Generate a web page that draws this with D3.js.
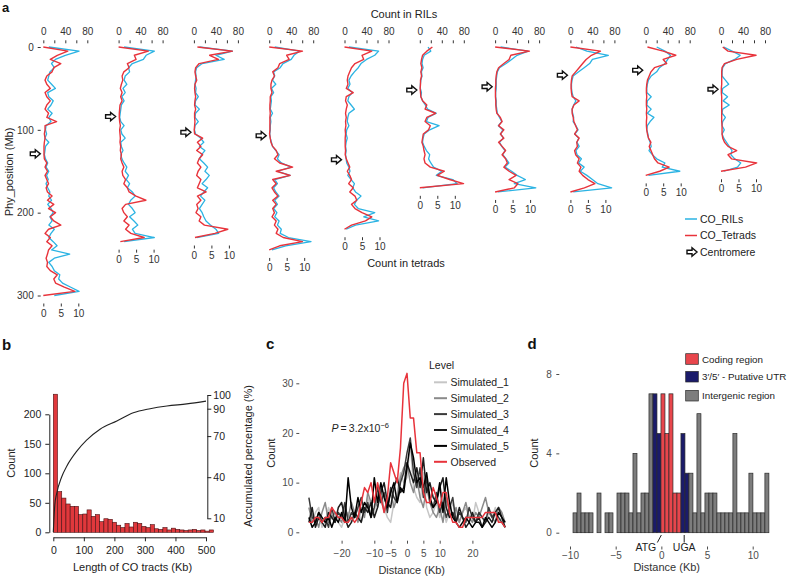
<!DOCTYPE html>
<html>
<head>
<meta charset="utf-8">
<script src="https://cdn.jsdelivr.net/npm/d3@7"></script>
<style>
  body { margin: 0; background: #fff; }
  svg { display: block; font-family: "Liberation Sans", Arial, Helvetica, sans-serif; }
</style>
</head>
<body>
<svg id="fig" width="788" height="576"></svg>
<script>
// ---------- panel a: crossovers along the 10 chromosomes ----------
const chromNames = ['1', '2', '3', '4', '5', '6', '7', '8', '9', '10']
const chromLengthMb = [300, 235, 230, 245, 220, 170, 175, 175, 155, 150]
const centromereMb = [129, 84, 103, 107, 136, 52, 48, 34, 28, 51]
const binStepMb = 5
const rilTicks = [0, 20, 40, 60, 80]
const tetradTicks = [0, 5, 10]
const positionTicks = [0, 100, 200, 300]

// CO counts in RILs, one value per 5 Mb
const rilCounts = [
  [10,65,40,22,15,20,12,10,8,15, 22,8,10,18,14,8,16,10,14,5, 4,6,3,10,4,3,2,4,8,5, 10,6,9,5,8,12,10,15,8,14, 18,12,16,10,20,14,10,18,25,15, 48,20,10,16,20,30,28,35,50,65, 20],
  [10,65,50,45,25,18,20,12,10,15, 8,12,6,10,5,4,3,2,4,10, 4,6,12,4,5,8,4,6,10,15, 12,18,14,20,16,25,30,22,18,25, 30,20,28,35,25,30,65,10],
  [10,70,40,55,15,5,3,4,3,2, 4,3,8,3,2,10,3,2,8,2, 1,3,12,18,10,20,14,10,18,25, 20,28,22,15,25,18,12,20,15,10, 15,18,22,30,40,45,5],
  [10,55,45,40,25,20,8,10,6,12, 4,8,3,4,3,2,6,2,3,2, 2,1,2,4,6,12,18,15,22,40, 15,38,10,15,8,12,18,10,15,8, 14,10,18,15,22,20,35,76,30,5],
  [8,62,55,40,30,25,18,12,8,10, 6,14,8,6,12,18,8,6,5,8, 4,3,5,3,2,3,2,3,4,8, 10,6,12,18,15,20,30,22,18,25, 55,35,62,20,3],
  [15,20,8,5,4,6,3,4,2,1, 1,3,2,5,10,14,30,15,12,35, 18,8,6,5,8,12,18,16,20,25, 40,30,60,68,5],
  [10,60,40,30,20,8,4,3,2,2, 2,1,1,2,2,3,4,8,12,6, 14,10,15,8,12,18,14,20,25,18, 30,40,55,35,74,5],
  [10,30,69,40,35,25,15,5,3,2, 2,3,5,10,6,3,4,6,5,10, 14,8,15,12,16,10,12,20,15,25, 18,30,40,50,75,5],
  [20,35,45,40,35,25,20,10,5,3, 2,2,10,3,2,10,3,15,8,3, 2,4,5,8,10,6,12,20,35,30, 62,5],
  [5,20,35,25,8,3,2,2,8,14, 3,2,12,4,15,3,2,8,3,2, 6,2,5,10,15,20,18,25,36,30, 5]
]

// CO counts in tetrads, one value per 5 Mb
const tetradCounts = [
  [0,7,4,2,5,3,2.5,1,0.5,1, 2,0.5,1,2,1,0.5,1.5,1,3.8,0.5, 0.5,0.3,0.5,0.3,0.2,0.2,0.2,0.3,1,0.5, 1.2,0.5,1,1.5,0.8,1.2,2.5,1.2,3,1.5, 3.5,2,3,5,1.5,0.5,2,1,2.5,1.5, 1.2,0.8,1.2,1,2,4,3,3.5,6,9, 0],
  [0,8.5,4.5,5,2.5,3,1.5,1,1.2,0.8, 0.5,1,0.6,1,0.4,0.3,0.2,0.2,0.3,0.5, 0.3,0.4,0.5,0.4,0.6,0.5,0.8,0.6,1,1.5, 1,1.2,2,1.5,2.5,3,5,7.8,2,1, 1.5,2.5,1.5,3,2,3.5,7.3,0.5],
  [1,11,4.5,7,1.5,0.5,0.3,0.5,0.8,0.3, 0.2,0.3,0.5,0.3,0.2,0.5,0.2,0.2,0.3,0.2, 0.1,0.2,2.5,1,2,0.8,2.5,1.5,1,2, 1.2,0.8,2,1.5,1,3.5,1,2,0.8,1.2, 0.6,2,1.5,3,9.7,6,0.3],
  [0,9.5,5,5.7,3,2.5,1,1.5,0.8,0.5, 0.5,0.8,0.3,0.3,0.2,0.2,0.3,0.2,0.2,0.2, 0.2,0.1,0.3,0.5,1,2,2.5,1.5,3,6.7, 2,6,1,2,0.8,1.5,2.5,1,2,1, 1.5,0.8,2,1.5,2.5,2,4,9.5,3,0],
  [0,7.8,5,5.5,3,2,1.5,1,0.8,1, 0.5,2.5,0.5,0.3,0.8,0.5,0.3,0.5,0.3,0.4, 0.2,0.3,0.2,0.2,0.2,0.3,0.2,0.5,1,1.5, 0.8,1.5,2,1.2,2.5,1.5,3,3.5,2,3, 5,7.8,6,2,0],
  [3.6,2,0.8,0.5,0.3,0.6,0.3,0.5,0.2,0.2, 0.1,0.2,0.3,0.8,2,1.5,4.5,2,1.5,3, 2.5,1,0.8,0.6,1,1.2,1.5,1.2,1.5,3, 7,5,8.5,12.5,0],
  [0,9.8,4.5,4,2.5,1,0.5,0.3,0.2,0.2, 0.1,0.1,0.1,0.2,0.2,0.3,0.5,1.5,2,1, 2.5,1.5,2.5,1,2,3,2,3,3.5,2.5, 4,6,4,6.5,5.5,0],
  [0,8.6,6,4.5,3.5,2.5,1.5,0.5,0.3,0.2, 0.2,0.3,0.5,2.5,1,0.5,0.5,0.8,1,1.5, 2,1.2,2.5,1.8,2,1.2,1.5,2.5,2,3, 2.5,3.5,5,7,4,0],
  [0.5,5,8.6,5,6,2.5,1.5,1,0.5,0.3, 0.2,0.2,0.3,0.2,0.2,0.3,0.2,0.3,0.2,0.2, 0.3,0.5,0.8,1.5,1,1.5,2,2.5,3.5,6.7, 4,0],
  [0.5,2,10,4.5,1,0.3,0.2,0.2,0.2,0.2, 0.1,0.1,0.2,0.2,0.2,0.2,0.2,0.2,0.2,0.3, 0.3,0.3,0.5,1,2,4.5,2,3,10.2,7, 0]
]

// ---------- panel b: CO tract lengths ----------
const tractBinWidthKb = 13.8
const tractCounts = [234,69,58,48,44,44,30,31,38,27, 30,18,23,22,17,12,8,15,9,17, 15,10,8,13,6,5,8,4,7,5, 4,3,4,5,3,4,2,4]
const cumulativeKb = [0, 5, 11, 27, 44, 77, 109, 153, 208, 262, 317, 372, 437, 500]
const cumulativePct = [0, 20, 28, 40, 48, 59, 67, 75, 81, 87, 90, 92, 93.5, 95.5]
const lengthTicks = [0, 100, 200, 300, 400, 500]
const countTicksB = [0, 50, 100, 150, 200]
const pctTicks = [10, 40, 70, 90, 100]

// ---------- panel c: distance of CO to genes ----------
const distanceKb = [-30,-29,-28,-27,-26,-25,-24,-23,-22,-21,-20,-19,-18,-17,-16,-15,-14,-13,-12,-11,-10,-9,-8,-7,-6,-5,-4,-3,-2,-1,0,1,2,3,4,5,6,7,8,9,10,11,12,13,14,15,16,17,18,19,20,21,22,23,24,25,26,27,28,29,30]
const simulated1 = [3,2,4,5,1,2,5,3,4,2, 1,3,4,2,3,5,2,4,7,5, 4,8,6,5,3,2,6,8,12,10, 11,18,9,7,6,12,5,3,4,6, 3,5,2,4,6,3,2,4,5,3, 2,6,4,3,2,4,3,5,2,3, 1]
const simulated2 = [5,2,3,1,4,6,2,3,4,3, 2,5,3,6,4,2,5,3,8,6, 7,5,9,4,6,8,5,7,11,13, 14,10,8,11,7,5,9,6,4,3, 5,2,7,4,3,5,2,4,6,3, 2,4,3,5,7,4,3,2,5,4, 2]
const simulated3 = [7,3,2,4,2,3,1,5,2,4, 3,6,2,4,3,5,7,4,6,3, 5,9,6,8,4,9,7,6,10,12, 16,19,12,9,13,7,11,6,5,8, 4,6,3,5,7,2,4,3,2,5, 3,2,4,3,2,5,3,4,3,2, 1]
const simulated4 = [2,5,1,3,2,1,4,3,2,5, 6,3,1,2,4,3,2,5,4,6, 3,5,8,10,6,5,9,11,8,9, 14,12,10,13,9,15,8,10,7,6, 9,11,5,3,4,2,5,3,1,2, 4,2,3,1,2,3,2,4,5,3, 1]
const simulated5 = [3,1,2,4,3,2,3,1,3,2, 4,2,11,5,3,7,4,6,5,3, 11,6,10,7,5,8,10,6,9,8, 13,18,15,10,11,9,12,7,5,6, 10,4,11,6,3,2,1,2,3,2, 1,2,2,1,3,2,1,2,4,3, 2]
const observed = [2,2,3,3,2,3,3,5,4,3, 3,2,2,3,2,3,6,9,8,10, 6,10,7,4,7,14,12,10,17,30, 32,23,23,16,16,8,6,6,9,7, 5,8,8,4,2,2,1,1,3,3, 3,3,3,3,4,4,4,4,2,2, 1]
const levelNames = ['Simulated_1', 'Simulated_2', 'Simulated_3', 'Simulated_4', 'Simulated_5', 'Observed']
const distanceTicksC = [-20, -10, -5, 0, 5, 10, 20]
const countTicksC = [0, 10, 20, 30]

// ---------- panel d: CO position relative to genes ----------
const geneBinStartKb = -9.67
const geneBinWidthKb = 0.4376
const geneBinCounts = [1,2,1,1,1,0,2,0,1,1, 0,2,2,2,1,4,1,2,2,7, 7,5,7,5,7,2,2,5,3,3, 1,6,1,2,2,2,1,1,1,1, 5,1,1,1,3,1,1,1,3,0]
const geneBinRegion = ['I','I','I','I','I','I','I','I','I','I', 'I','I','I','I','I','I','I','I','I','I', 'U','U','C','C','C','C','C','U','U','I', 'I','I','I','I','I','I','I','I','I','I', 'I','I','I','I','I','I','I','I','I','I']
const regionNames = ['Coding region', '3\u2032/5\u2032 - Putative UTR', 'Intergenic region']
const regionKeys = ['C', 'U', 'I']
const geneMarkNames = ['ATG', 'UGA']
const geneMarkKb = [0, 2.5]
const distanceTicksD = [-10, -5, 0, 5, 10]
const countTicksD = [0, 4, 8]

// ------------------------------------------------------------
const svg = d3.select('#fig')
svg.append('rect').attr('width', 788).attr('height', 576).attr('fill', '#fff')

const tidy = (g, colour, size, keepDomain) => {
  g.attr('font-family', null).attr('font-size', size)
  if (!keepDomain) g.select('.domain').remove()
  else g.select('.domain').attr('stroke', colour)
  g.selectAll('line').attr('stroke', colour)
  g.selectAll('text').attr('fill', colour)
}

const label = (txt, x, y, opts = {}) => {
  const t = svg.append('text')
    .attr('x', x).attr('y', y)
    .attr('font-size', opts.size || 11)
    .attr('fill', opts.fill || '#222')
    .attr('text-anchor', opts.anchor || 'start')
    .text(txt)
  if (opts.bold) t.attr('font-weight', 'bold')
  if (opts.rotate) t.attr('transform', `rotate(${opts.rotate},${x},${y})`)
  return t
}

// ===== panel a =====
const blue = '#2bb3e3'
const red = '#e8333b'
const chrX = d3.scalePoint().domain(chromNames).range([43.3, 721])
const yMb = d3.scaleLinear().domain([0, 300]).range([47, 295.5])
const arrowPath = 'M-10,-1.8 L-5,-1.8 L-5,-4.2 L0,0 L-5,4.2 L-5,1.8 L-10,1.8 Z'

label('a', 2, 12, { size: 13, bold: true, fill: '#111' })
label('Count in RILs', 404, 17.5, { anchor: 'middle', size: 11 })
label('Count in tetrads', 406, 267, { anchor: 'middle', size: 11 })
label('Phy_position (Mb)', 12.5, 172, { anchor: 'middle', size: 11, rotate: -90 })

chromNames.forEach((chr, i) => {
  const x0 = chrX(chr)
  const xRil = d3.scaleLinear().domain([0, 80]).range([x0, x0 + 44])
  const xTet = d3.scaleLinear().domain([0, 10]).range([x0, x0 + 35])
  const yEnd = yMb(chromLengthMb[i])
  const g = svg.append('g')

  g.append('g').attr('transform', 'translate(0,43.3)')
    .call(d3.axisTop(xRil).tickValues(rilTicks).tickSize(3).tickPadding(5)
      .tickFormat(d => d % 40 === 0 ? d : ''))
    .call(tidy, '#333', 10)

  g.append('g').attr('transform', `translate(0,${yEnd + 8})`)
    .call(d3.axisBottom(xTet).tickValues(tetradTicks).tickSize(3).tickPadding(3))
    .call(tidy, '#333', 10)

  if (i === 0) {
    g.append('g').attr('transform', 'translate(40.7,0)')
      .call(d3.axisLeft(yMb).tickValues(positionTicks).tickSize(3).tickPadding(4))
      .call(tidy, '#333', 10)
  }

  const ril = d3.line().x(d => xRil(d)).y((d, j) => yMb(j * binStepMb))
  const tet = d3.line().x(d => xTet(d)).y((d, j) => yMb(j * binStepMb))
  g.append('path').datum(rilCounts[i]).attr('d', ril)
    .attr('fill', 'none').attr('stroke', blue).attr('stroke-width', 1.3).attr('stroke-linejoin', 'round')
  g.append('path').datum(tetradCounts[i]).attr('d', tet)
    .attr('fill', 'none').attr('stroke', red).attr('stroke-width', 1.4).attr('stroke-linejoin', 'round')

  g.append('path').attr('d', arrowPath)
    .attr('transform', `translate(${x0 - 3},${yMb(centromereMb[i])})`)
    .attr('fill', '#fff').attr('stroke', '#111').attr('stroke-width', 1.4)
})

// legend a
const legA = svg.append('g').attr('font-size', 10.5)
;[['CO_RILs', blue], ['CO_Tetrads', red]].forEach(([name, col], k) => {
  const y = 219 + k * 16.5
  legA.append('line').attr('x1', 685).attr('x2', 697).attr('y1', y).attr('y2', y)
    .attr('stroke', col).attr('stroke-width', 1.5)
  legA.append('text').attr('x', 700).attr('y', y + 3.8).attr('fill', '#222').text(name)
})
legA.append('path').attr('d', arrowPath).attr('transform', 'translate(697,252)')
  .attr('fill', '#fff').attr('stroke', '#111').attr('stroke-width', 1.4)
legA.append('text').attr('x', 700).attr('y', 255.8).attr('fill', '#222').text('Centromere')

// ===== panel b =====
label('b', 2, 350, { size: 15, bold: true, fill: '#111' })
const xB = d3.scaleLinear().domain([0, 500]).range([53.3, 206])
const yB = d3.scaleLinear().domain([0, 200]).range([532.3, 414.3])
const yPct = d3.scaleLinear().domain([10, 100]).range([518.3, 395])

svg.append('g').selectAll('rect')
  .data(tractCounts)
  .join('rect')
  .attr('x', (d, i) => xB(i * tractBinWidthKb))
  .attr('width', xB(tractBinWidthKb) - xB(0))
  .attr('y', d => yB(d))
  .attr('height', d => yB(0) - yB(d))
  .attr('fill', '#e0383c').attr('stroke', '#4a1214').attr('stroke-width', 0.6)

const cum = d3.line().x(d => xB(d[0])).y(d => yPct(d[1])).curve(d3.curveMonotoneX)
svg.append('path').datum(cumulativeKb.map((k, i) => [k, cumulativePct[i]]))
  .attr('d', cum).attr('fill', 'none').attr('stroke', '#222').attr('stroke-width', 1.1)

svg.append('g').attr('transform', 'translate(49.3,0)')
  .call(d3.axisLeft(yB).tickValues(countTicksB).tickSize(4).tickSizeOuter(0).tickPadding(4))
  .call(tidy, '#222', 10.5, true)
svg.append('g').attr('transform', 'translate(0,537.3)')
  .call(d3.axisBottom(xB).tickValues(lengthTicks).tickSize(4).tickSizeOuter(0).tickPadding(5))
  .call(tidy, '#222', 10.5, true)
svg.append('g').attr('transform', 'translate(207.3,0)')
  .call(d3.axisRight(yPct).tickValues(pctTicks).tickSize(4).tickSizeOuter(0).tickPadding(2))
  .call(tidy, '#222', 10.5, true)

label('Count', 15, 463, { anchor: 'middle', size: 11, rotate: -90 })
label('Accumulated percentage (%)', 251.5, 456, { anchor: 'middle', size: 11, rotate: -90 })
label('Length of CO tracts (Kb)', 132.5, 570.5, { anchor: 'middle', size: 11 })

// ===== panel c =====
const grey30 = '#4d4d4d'
label('c', 266, 348.5, { size: 15, bold: true, fill: '#111' })
const xC = d3.scaleLinear().domain([-20, 20]).range([341.6, 472.4])
const yC = d3.scaleLinear().domain([0, 30]).range([532.3, 383.3])
const levelColours = ['#c6c6c6', '#8a8a8a', '#3a3a3a', '#1c1c1c', '#000000', red]
const levelSeries = [simulated1, simulated2, simulated3, simulated4, simulated5, observed]

svg.append('g').attr('transform', 'translate(299.3,0)')
  .call(d3.axisLeft(yC).tickValues(countTicksC).tickSize(3).tickPadding(3))
  .call(tidy, grey30, 10)
svg.append('g').attr('transform', 'translate(0,540.7)')
  .call(d3.axisBottom(xC).tickValues(distanceTicksC).tickSize(3).tickPadding(6))
  .call(tidy, grey30, 10)

const lineC = d3.line().x((d, i) => xC(distanceKb[i])).y(d => yC(d))
svg.append('g').selectAll('path')
  .data(levelSeries)
  .join('path')
  .attr('d', lineC)
  .attr('fill', 'none')
  .attr('stroke', (d, i) => levelColours[i])
  .attr('stroke-width', 1.5)
  .attr('stroke-linejoin', 'round')

const pText = label('', 331.5, 432, { size: 10.5, fill: '#222' })
pText.append('tspan').attr('font-style', 'italic').text('P')
pText.append('tspan').text('\u2009=\u20093.2x10')
pText.append('tspan').attr('dy', -4).attr('font-size', 7.5).text('\u22126')

const legC = svg.append('g').attr('font-size', 10.5)
legC.append('text').attr('x', 429).attr('y', 368.5).attr('fill', '#222').text('Level')
levelNames.forEach((name, k) => {
  const y = 382.3 + k * 15.9
  legC.append('line').attr('x1', 434).attr('x2', 447).attr('y1', y).attr('y2', y)
    .attr('stroke', levelColours[k]).attr('stroke-width', 2)
  legC.append('text').attr('x', 450.5).attr('y', y + 3.8).attr('fill', '#222').text(name)
})

label('Count', 275, 453, { anchor: 'middle', size: 11, rotate: -90 })
label('Distance (Kb)', 411.7, 574, { anchor: 'middle', size: 11, fill: '#333' })

// ===== panel d =====
label('d', 527.5, 349, { size: 15, bold: true, fill: '#111' })
const xD = d3.scaleLinear().domain([-10, 10]).range([570, 752.7])
const yD = d3.scaleLinear().domain([0, 8]).range([532.7, 374])
const regionColour = { C: '#e8464c', U: '#1b1b6a', I: '#7d7d7d' }

svg.append('g').attr('transform', 'translate(559.3,0)')
  .call(d3.axisLeft(yD).tickValues(countTicksD).tickSize(3).tickPadding(4.5))
  .call(tidy, grey30, 10)
svg.append('g').attr('transform', 'translate(0,546.5)')
  .call(d3.axisBottom(xD).tickValues(distanceTicksD).tickSize(3).tickPadding(2))
  .call(tidy, grey30, 10)

svg.append('g').selectAll('rect')
  .data(geneBinCounts)
  .join('rect')
  .attr('x', (d, i) => xD(geneBinStartKb + i * geneBinWidthKb))
  .attr('width', xD(geneBinWidthKb) - xD(0))
  .attr('y', d => yD(d))
  .attr('height', d => yD(0) - yD(d))
  .attr('fill', (d, i) => regionColour[geneBinRegion[i]])
  .attr('stroke', '#2a2a2a').attr('stroke-width', 0.7)

// ATG / UGA marks
const markG = svg.append('g').attr('font-size', 10.5)
geneMarkNames.forEach((name, k) => {
  const x = xD(geneMarkKb[k])
  const slant = k === 0 ? -4 : 0
  markG.append('line').attr('x1', x).attr('y1', 535).attr('x2', x + slant).attr('y2', 542.5)
    .attr('stroke', '#222').attr('stroke-width', 1)
  markG.append('text').attr('x', k === 0 ? x - 15.5 : x).attr('y', 550.5)
    .attr('text-anchor', 'middle').attr('fill', '#222').text(name)
})

const legD = svg.append('g').attr('font-size', 9.8)
regionNames.forEach((name, k) => {
  const y = [359, 376.7, 395.7][k]
  legD.append('rect').attr('x', 685.7).attr('y', y - 5.3).attr('width', 12.6).attr('height', 10.6)
    .attr('fill', regionColour[regionKeys[k]]).attr('stroke', '#2a2a2a').attr('stroke-width', 0.7)
  legD.append('text').attr('x', 702).attr('y', y + 3.6).attr('fill', '#222').text(name)
})

label('Count', 537.5, 453, { anchor: 'middle', size: 11, rotate: -90 })
label('Distance (Kb)', 666.7, 571, { anchor: 'middle', size: 11, fill: '#333' })
</script>
</body>
</html>
